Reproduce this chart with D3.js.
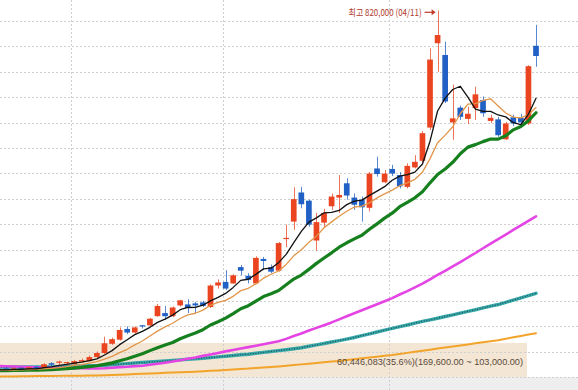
<!DOCTYPE html>
<html><head><meta charset="utf-8">
<script src="https://cdn.jsdelivr.net/npm/d3@7/dist/d3.min.js"></script>
<style>html,body{margin:0;padding:0;background:#fff}svg{display:block}</style>
</head><body>
<svg id="chart" width="578" height="390"></svg>
<script>
// 단위: 천원 (prices in thousands of KRW)
const dates = ["01/16","01/17","01/18","01/19","01/22","01/23","01/24","01/25","01/26","01/29","01/30","01/31",
"02/01","02/02","02/05","02/06","02/07","02/08","02/13","02/14","02/15","02/16","02/19","02/20","02/21","02/22","02/23","02/26","02/27","02/28","02/29",
"03/04","03/05","03/06","03/07","03/08","03/11","03/12","03/13","03/14","03/15","03/18","03/19","03/20","03/21","03/22","03/25","03/26","03/27","03/28","03/29",
"04/01","04/02","04/03","04/04","04/05","04/08","04/09","04/11","04/12","04/15","04/16","04/17","04/18","04/19","04/22","04/23","04/24","04/25","04/26","04/29","04/30"];

const open  = [118,120,116,120,117,123,122,130,130,130,128,133,134,142,150,168,176,197,190,203,204,222,228,222,243,245,247,249,240,282,289,286,318,301,286,334,318,311,372,407,464,448,370,405,437,454,482,454,450,434,511,484,510,498,475,513,526,591,756,733,601,630,608,629,645,604,607,568,611,610,599,751];
const high  = [120,123,122,122,124,125,130,132,135,133,136,139,145,153,182,180,200,202,202,205,219,246,242,241,254,255,250,252,284,294,312,304,322,306,339,338,323,367,401,474,475,450,424,432,462,498,492,462,456,504,534,508,518,504,521,537,584,746,820,759,675,634,632,671,652,616,612,602,616,618,713,792];
const low   = [115,114,114,116,116,119,121,125,127,127,127,132,133,140,148,166,174,187,188,198,202,221,215,220,241,228,228,240,238,276,273,285,302,286,285,312,306,309,357,391,433,397,350,395,430,424,450,430,407,427,495,482,496,472,472,511,523,586,700,639,567,606,598,606,612,600,573,567,594,596,596,710];
const close = [116,115,120,118,122,120,128,127,132,131,134,136,142,150,169,177,195,190,200,201,217,242,222,239,253,238,243,242,282,288,276,302,311,293,336,330,309,365,374,451,441,401,406,424,456,459,458,440,435,501,500,501,501,476,516,524,580,724,772,642,609,612,618,656,619,610,576,599,599,601,711,731];

const ma5   = [116.9,116.9,117.9,117.9,118.9,118.9,121.5,122.9,125.7,127.5,130.3,131.9,134.9,138.4,146,154.6,166.3,175.9,185.9,192.2,200.2,209.8,216.1,224.1,234.6,239,239.2,243.4,252,258.9,266.5,278.3,292,294.2,303.8,314.5,315.9,326.7,342.8,365.7,387.8,406.1,414.3,424.2,425.2,428.8,440.2,446.9,449.1,458.3,466.7,475.4,487.8,496.1,499.1,503.9,519.6,564.3,623.4,648.5,665.4,671.8,650.5,627.2,622.6,622.8,615.6,611.9,600.5,596.9,617.2,648.3];
const ma10  = [115.9,115.9,116.4,116.9,117.4,117.9,118.9,119.9,121.4,123.4,125.9,127.4,130.3,133,138.1,143.2,150.6,157.2,165.9,173.4,183.3,192.8,201,208.2,217.4,224.4,227.7,233.8,243.3,249,252.9,260.8,272,276.6,285.1,296.4,304,310.4,323.3,340.1,351.9,366.4,378.5,395,406.5,417.5,427.2,435.6,437.2,443.6,453.4,461.2,468.5,477.2,482.9,489.7,503.7,530.2,561.3,576.2,592.5,618,636.9,637.8,644,647.3,633.1,619.5,611.6,609.9,616.4,630.1];
const ma20  = [115.4,115.4,115.7,115.9,116.2,116.4,116.9,117.4,118.2,119.2,120.4,121.7,123.4,125,127.8,130.6,134.8,138.6,143.7,148.4,154.6,160.2,165.6,170.6,177.8,183.9,189.1,195.5,204.7,211.2,218.1,226.9,236.5,242.4,251.3,260.4,265.8,272.1,283.3,294.6,302.4,313.6,325.3,335.8,345.9,356.9,365.6,373.1,380.2,391.9,402.6,413.8,423.5,436.1,444.8,453.6,465.5,482.9,499.2,509.9,523,539.7,552.7,557.6,563.5,568.5,568.4,574.9,586.5,593.1,604.5,620];
const ma60  = [124.4,124.1,123.5,123.1,122.5,122.2,121.6,121.2,120.6,120.4,120.2,120,119.8,119.6,120.2,121.2,122.3,123.1,124.3,125.1,127.1,129,131,133.2,135.9,138.8,141.3,144.3,147.2,150.1,153.1,156,158.8,161.5,164.2,166.9,169.9,172.8,177.6,183.1,188.1,193.8,199.1,204.4,209.8,215.7,221.7,227.6,233.7,239.5,245.4,251.3,257.3,264.4,271.1,278.3,285.7,294.1,302.6,310.7,319.2,327.6,336.8,345.6,354.9,364,372.8,381.6,390.8,399.5,408.4,417.2];
const ma120 = [122.5,122.5,122.5,122.5,122.5,122.5,122.5,122.5,123.1,123.5,123.9,124.5,124.9,125.3,126.1,127.1,128.2,129.2,130.4,131.4,132.4,133.4,134.3,135.5,136.5,137.7,138.6,139.7,140.9,142.3,143.7,145,146.4,147.6,149.4,151.1,152.9,154.7,156.4,158.2,160.2,163.1,165.8,168.5,171.5,174.2,177.2,180.3,184,187.5,191,194.6,198.1,201.6,204.8,208.3,211.7,214.9,218,221.4,224.5,228,231.4,234.6,238.2,241.5,244.8,249.2,253.5,258,262.4,266.7];
const ma240 = [103.9,104,104.2,104.4,104.6,104.8,104.8,105,105.2,105.4,105.4,105.6,105.8,106,106.3,106.9,107.5,108.1,108.7,109.3,109.9,110.5,111.1,111.6,112.2,112.8,113.4,114.2,115.1,115.9,116.8,117.6,118.6,119.4,120.6,121.6,122.5,123.7,124.9,126.5,127.7,129,130.4,131.8,133.2,134.5,136.3,137.9,139.6,141.1,142.7,144.4,146,148,150.2,152.3,154.3,156.4,158.6,160.5,162.6,164.8,166.7,168.9,171.1,173,175,177.9,180.7,183.4,186.1,188.8];

// volume-at-price band
const bandLow = 103, bandHigh = 169.6, bandVolume = 60446083, bandPct = 35.6;
const gridDates = ["01/30","02/29","04/02"];

const W = 578, H = 390, paneBottom = 377;
const svg = d3.select("#chart");

const x = d3.scaleBand().domain(dates).range([-5.29, 539.8]).paddingInner(0.25).paddingOuter(0.125);
const y = d3.scaleLinear().domain([103, 820]).range([paneBottom, 10.5]);
const cx = d => x(d) + x.bandwidth() / 2;
const gridY = d3.scaleLinear().domain([0, 14]).range([paneBottom, 20.7]);

svg.append("rect").attr("width", W).attr("height", H).attr("fill", "#ffffff");
svg.append("rect").attr("x", 0).attr("y", paneBottom).attr("width", W).attr("height", H - paneBottom).attr("fill", "#eeeeee");

// band
svg.append("rect").attr("x", 0).attr("y", y(bandHigh)).attr("width", 527)
  .attr("height", y(bandLow) - y(bandHigh)).attr("fill", "#f3e6d4");

// grid
const g = svg.append("g").attr("stroke", "#cfcfcf").attr("stroke-width", 1).attr("stroke-dasharray", "2,2");
g.selectAll(".h").data(d3.range(15)).join("line")
  .attr("x1", 0).attr("x2", W).attr("y1", d => Math.round(gridY(d)) + 0.5).attr("y2", d => Math.round(gridY(d)) + 0.5);
g.selectAll(".v").data(gridDates).join("line")
  .attr("x1", d => Math.round(x(d)) + 0.5).attr("x2", d => Math.round(x(d)) + 0.5).attr("y1", 0).attr("y2", H);

const lineGen = arr => d3.line().x((d, i) => cx(dates[i])).y(d => y(d))(arr);

function drawLine(arr, color, width, dash) {
  const p = svg.append("path").attr("d", lineGen(arr)).attr("fill", "none")
    .attr("stroke", color).attr("stroke-width", width).attr("stroke-linejoin", "round").attr("stroke-linecap", "round");
  if (dash) p.attr("stroke-dasharray", dash).attr("stroke-linecap", "butt");
  return p;
}

// long MAs beneath candles
drawLine(ma240, "#f2a42a", 2);
drawLine(ma120, "#38a9a9", 3.4);
drawLine(ma120, "#1d4f5c", 1.3, "1,1.6");
drawLine(ma60, "#e444e4", 2.6);

// candles
const RED = "#ea4420", BLUE = "#2160c4";
const idx = d3.range(dates.length);
const colorOf = i => close[i] >= open[i] ? RED : BLUE;
svg.append("g").selectAll("line").data(idx).join("line")
  .attr("x1", i => Math.round(cx(dates[i])) + 0.5).attr("x2", i => Math.round(cx(dates[i])) + 0.5)
  .attr("y1", i => y(high[i])).attr("y2", i => y(low[i]))
  .attr("stroke", colorOf).attr("stroke-width", 1).attr("stroke-opacity", 0.75);
svg.append("g").selectAll("rect").data(idx).join("rect")
  .attr("x", i => x(dates[i])).attr("width", x.bandwidth())
  .attr("y", i => y(Math.max(open[i], close[i])) - (Math.abs(y(open[i]) - y(close[i])) < 1.2 ? 0.6 : 0))
  .attr("height", i => Math.max(1.2, Math.abs(y(open[i]) - y(close[i]))))
  .attr("fill", colorOf);

// short MAs above candles
drawLine(ma20, "#15801d", 3.2);
drawLine(ma10, "#e1964a", 1.3);
drawLine(ma5, "#111111", 1.3);

// band label
const fmtInt = d3.format(","), fmt2 = d3.format(",.2f");
svg.append("text").attr("x", 337).attr("y", 364.5)
  .attr("font-family", "'Liberation Sans', Arial, sans-serif").attr("font-size", 9.3)
  .attr("fill", "#5b4a3a").attr("textLength", 186).attr("lengthAdjust", "spacingAndGlyphs")
  .text(`${fmtInt(bandVolume)}(${bandPct}%)(${fmt2(bandHigh * 1000)} ~ ${fmt2(bandLow * 1000)})`);

// high annotation
const hi = d3.maxIndex(high);
const hx = cx(dates[hi]), hy = y(high[hi]) + 1.8;
svg.append("text").attr("x", hx - 16).attr("y", hy + 4).attr("text-anchor", "end")
  .attr("font-family", "'Noto Sans CJK KR', 'Noto Sans', sans-serif").attr("font-size", 9.6)
  .attr("fill", "#b03a2c").attr("textLength", 73).attr("lengthAdjust", "spacingAndGlyphs")
  .text(`최고 ${fmtInt(high[hi] * 1000)} (${dates[hi]})`);
svg.append("line").attr("x1", hx - 13).attr("x2", hx - 5).attr("y1", hy).attr("y2", hy)
  .attr("stroke", "#c0392b").attr("stroke-width", 1.2);
svg.append("path").attr("d", `M${hx - 2},${hy} L${hx - 6},${hy - 3} L${hx - 6},${hy + 3} Z`).attr("fill", "#c0392b");
</script>
</body></html>
